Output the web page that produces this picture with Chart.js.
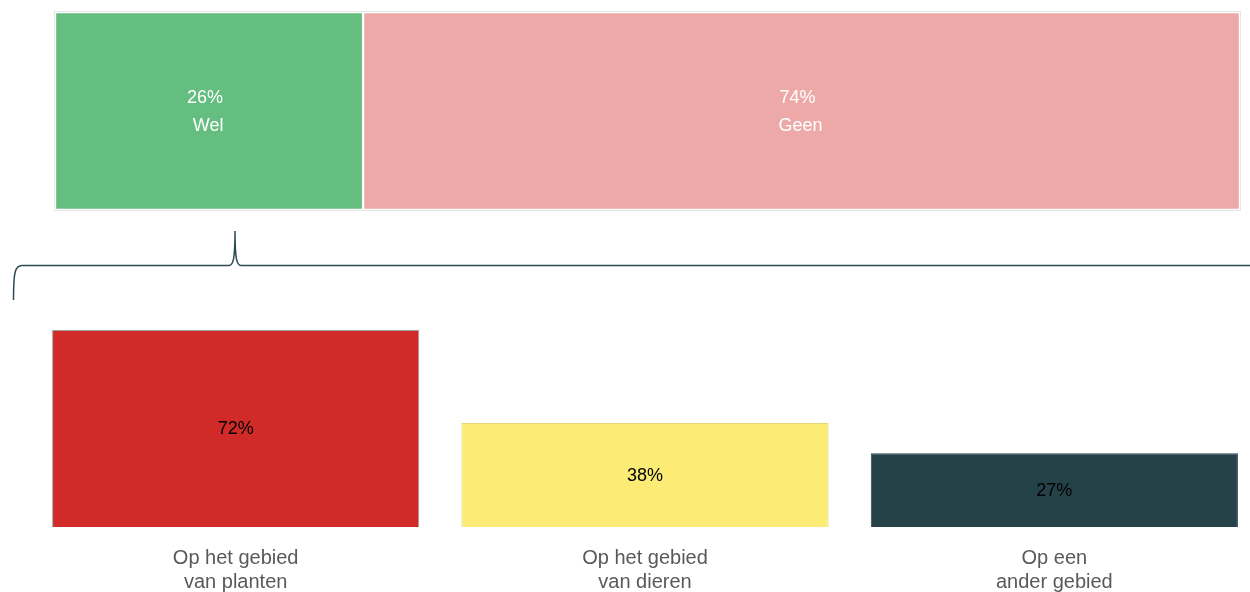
<!DOCTYPE html>
<html>
<head>
<meta charset="utf-8">
<script src="https://cdn.jsdelivr.net/npm/chart.js@4"></script>
<style>
  html, body { margin: 0; padding: 0; background: #fff; overflow: hidden; width: 1250px; height: 592px; }
  #topWrap { position: absolute; left: 0; top: 0; width: 1250px; height: 310px; }
  #bottomWrap { position: absolute; left: 31px; top: 310px; width: 1228px; height: 303px; }
</style>
</head>
<body>
<div id="topWrap"><canvas id="splitChart"></canvas></div>
<div id="bottomWrap"><canvas id="areaChart"></canvas></div>
<script>
// Data
const splitLabels = ['Wel', 'Geen'];
const splitValues = [26, 74];
const splitColors = ['#63be7f', '#eda8a8'];

const areaLabels = [['Op het gebied', 'van planten'], ['Op het gebied', 'van dieren'], ['Op een', 'ander gebied']];
const areaValues = [72, 38, 27];
const areaColors = ['#d12b29', '#fcec76', '#264249'];
const areaBorders = ['#a0a0a0', '#e6d57a', '#264249'];

const FONT = '"Liberation Sans", Arial, sans-serif';

// Labels + brace for the top bar
const splitPlugin = {
  id: 'splitPlugin',
  afterDraw(chart) {
    const ctx = chart.ctx;
    const a = chart.chartArea;
    ctx.save();
    // light outer frame
    ctx.strokeStyle = '#e6e6e6';
    ctx.lineWidth = 1;
    ctx.strokeRect(a.left - 0.5, a.top - 0.5, a.right - a.left + 1, a.bottom - a.top + 1);

    // labels inside segments
    ctx.fillStyle = '#ffffff';
    ctx.font = '18px ' + FONT;
    ctx.textAlign = 'center';
    ctx.textBaseline = 'middle';
    chart.data.datasets.forEach((ds, i) => {
      const bar = chart.getDatasetMeta(i).data[0];
      const cx = (bar.base + bar.x) / 2;
      ctx.fillText(ds.data[0] + '%', cx - 4, bar.y - 13);
      ctx.fillText(ds.label, cx - 1, bar.y + 15);
    });

    // brace
    ctx.strokeStyle = '#2d4a52';
    ctx.lineWidth = 1.5;
    ctx.beginPath();
    ctx.moveTo(13.5, 300);
    ctx.bezierCurveTo(13.5, 272, 15, 265.5, 22, 265.5);
    ctx.lineTo(229, 265.5);
    ctx.bezierCurveTo(233, 265.5, 235, 260, 235, 231);
    ctx.bezierCurveTo(235, 260, 237, 265.5, 241, 265.5);
    ctx.lineTo(1250, 265.5);
    ctx.stroke();
    ctx.restore();
  }
};

// Value labels on the lower bars
const valuePlugin = {
  id: 'valuePlugin',
  afterDatasetsDraw(chart) {
    const ctx = chart.ctx;
    ctx.save();
    ctx.fillStyle = '#000000';
    ctx.font = '18px ' + FONT;
    ctx.textAlign = 'center';
    ctx.textBaseline = 'middle';
    chart.getDatasetMeta(0).data.forEach((bar, i) => {
      ctx.fillText(areaValues[i] + '%', bar.x, (bar.y + bar.base) / 2 + 1);
    });
    ctx.restore();
  }
};

new Chart(document.getElementById('splitChart'), {
  type: 'bar',
  data: {
    labels: [''],
    datasets: splitLabels.map((lab, i) => ({
      label: lab,
      data: [splitValues[i]],
      backgroundColor: splitColors[i],
      borderColor: '#ffffff',
      borderWidth: 1.5,
      borderSkipped: false,
      barPercentage: 1,
      categoryPercentage: 1
    }))
  },
  options: {
    indexAxis: 'y',
    responsive: true,
    maintainAspectRatio: false,
    animation: false,
    layout: { padding: { left: 55, right: 10, top: 12, bottom: 100 } },
    scales: {
      x: { stacked: true, display: false, min: 0, max: 100 },
      y: { stacked: true, display: false }
    },
    plugins: { legend: { display: false }, tooltip: { enabled: false } }
  },
  plugins: [splitPlugin]
});

new Chart(document.getElementById('areaChart'), {
  type: 'bar',
  data: {
    labels: areaLabels,
    datasets: [{
      data: areaValues,
      backgroundColor: areaColors,
      borderColor: areaBorders,
      borderWidth: 1,
      barPercentage: 0.897,
      categoryPercentage: 1
    }]
  },
  options: {
    responsive: true,
    maintainAspectRatio: false,
    animation: false,
    layout: { padding: { left: 0, right: 0, top: 20, bottom: 0 } },
    scales: {
      y: { display: false, min: 0, max: 72 },
      x: {
        grid: { display: false, drawTicks: false },
        border: { display: false },
        ticks: {
          color: '#595959',
          padding: 19,
          font: { family: FONT, size: 20, lineHeight: 1.2 }
        }
      }
    },
    plugins: { legend: { display: false }, tooltip: { enabled: false } }
  },
  plugins: [valuePlugin]
});
</script>
</body>
</html>
